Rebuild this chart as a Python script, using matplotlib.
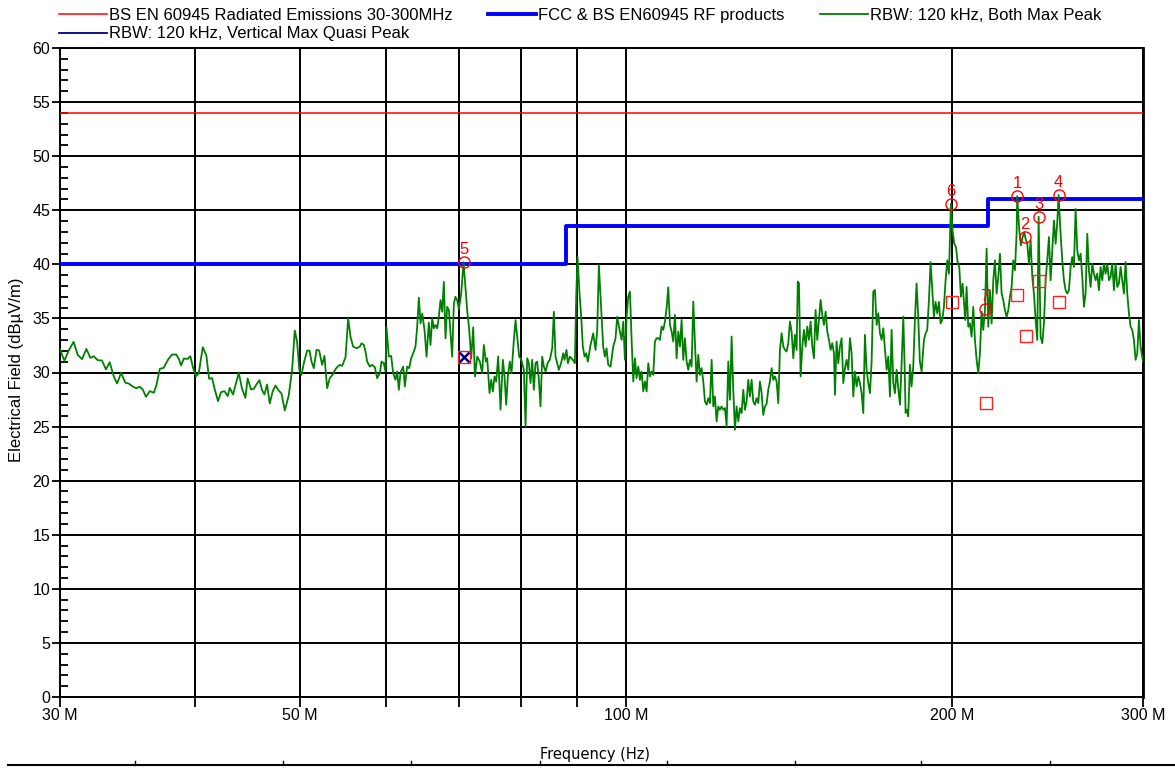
import matplotlib
matplotlib.use("Agg")
import matplotlib.pyplot as plt
from matplotlib.lines import Line2D
from matplotlib.ticker import NullLocator

plt.rcParams["font.family"] = ["Liberation Sans", "DejaVu Sans"]

# limit lines (MHz, dBuV/m)
bs_limit_freq = [30, 300]
bs_limit_level = [54, 54]
fcc_limit_freq = [30, 88, 88, 216, 216, 300]
fcc_limit_level = [40, 40, 43.5, 43.5, 46, 46]

# max peak trace (MHz, dBuV/m)
trace_freq = [
    30.00, 30.28, 30.56, 30.88, 31.15, 31.44, 31.73, 32.00, 32.23, 32.50,
    32.80, 33.08, 33.34, 33.63, 33.87, 34.16, 34.47, 34.72, 35.04, 35.29,
    35.54, 35.77, 36.02, 36.31, 36.62, 36.82, 37.09, 37.40, 37.75, 38.07,
    38.42, 38.64, 38.81, 39.03, 39.36, 39.58, 39.81, 40.06, 40.29, 40.64,
    40.95, 41.19, 41.45, 41.69, 41.98, 42.25, 42.55, 42.85, 43.04, 43.34,
    43.87, 44.18, 44.49, 44.71, 45.03, 45.29, 45.61, 45.84, 46.10, 46.33,
    46.59, 46.86, 47.16, 47.43, 47.76, 48.04, 48.38, 48.79, 49.14, 49.42,
    49.66, 49.90, 50.13, 50.42, 50.74, 50.99, 51.21, 51.46, 51.76, 52.05,
    52.38, 52.64, 52.94, 53.24, 53.55, 53.89,
    54.08, 54.39, 54.66, 55.05, 55.36, 55.64, 55.95, 56.35, 56.75, 56.95,
    57.24, 57.44, 57.64, 57.97, 58.26, 58.59, 58.88, 59.22, 59.43, 59.72,
    59.93, 60.06, 60.36, 60.66, 60.92, 61.22, 61.44, 61.66, 61.88, 62.23,
    62.45, 62.76, 63.03, 63.30, 63.57, 63.88, 64.11, 64.34, 64.57, 64.80,
    65.12, 65.40, 65.72, 65.95, 66.19, 66.42, 66.66, 66.90, 67.13, 67.37,
    67.61, 67.85, 68.09, 68.33, 68.58, 68.82, 69.06, 69.31, 69.55, 69.80,
    70.05, 70.40, 70.75, 71.30, 71.61, 71.91, 72.22, 72.48, 72.84, 73.25,
    73.61, 73.87, 74.19, 74.40, 74.77, 75.04, 75.30, 75.57, 75.84, 76.16,
    76.54, 76.92, 77.19, 77.47, 77.74, 78.07, 78.35, 78.74, 79.02, 79.30,
    79.64, 79.98, 80.43, 80.72, 81.00, 81.29, 81.58, 81.87, 82.16, 82.45,
    82.74, 83.04, 83.33, 83.63, 83.93, 84.23, 84.64, 85.00, 85.43, 85.73,
    86.03, 86.34, 86.65, 87.08, 87.45, 87.70, 88.07, 88.32, 88.70, 89.27,
    89.65, 89.90, 90.15, 90.54, 90.86, 91.18, 91.51, 91.83, 92.16, 92.68,
    93.21, 93.67, 94.01, 94.34, 94.67, 95.01, 95.21, 95.55, 95.89, 96.23,
    96.71, 97.26, 97.74, 98.09, 98.58,
    99.01, 99.36, 99.71, 100.07, 100.42, 100.78, 101.14, 101.50, 101.86, 102.22,
    102.58, 102.95, 103.31, 103.68, 104.05, 104.42, 104.79, 105.16, 105.53, 105.91,
    106.28, 106.66, 107.04, 107.42, 107.80, 108.18, 108.57, 108.95, 109.34, 109.73,
    110.12, 110.51, 110.90, 111.29, 111.69, 112.09, 112.48, 112.88, 113.28, 113.69,
    114.09, 114.50, 114.90, 115.31, 115.72, 116.13, 116.54, 116.96, 117.37, 117.79,
    118.21, 118.63, 119.05, 119.47, 119.90, 120.32, 120.74, 121.17, 121.60, 122.03,
    122.47, 122.90, 123.34, 123.78, 124.22, 124.66, 125.10, 125.54, 125.99, 126.44,
    126.89, 127.34, 127.79, 128.24, 128.70, 129.15, 129.61, 130.07, 130.53, 131.00,
    131.46, 131.93, 132.40, 132.87, 133.34, 133.81, 134.29, 134.77, 135.24, 135.72,
    136.21, 136.69, 137.18, 137.66, 138.15, 138.64, 139.13, 139.63, 140.12, 140.62,
    141.12, 141.62, 142.12, 142.63, 143.14, 143.64, 144.00, 144.36, 144.87, 145.39,
    145.90, 146.42, 146.94, 147.46, 147.98, 148.51, 149.03, 149.56, 150.09, 150.62,
    151.16, 151.70, 152.24, 152.78, 153.32, 153.87, 154.41, 154.96, 155.51, 155.84,
    156.39, 156.95, 157.51, 158.06, 158.63, 159.19, 159.75, 160.32, 160.89, 161.46,
    162.04, 162.61, 163.19, 163.77, 164.35, 164.93, 165.52, 166.10, 166.69, 167.29,
    167.88, 168.48, 169.07, 169.67, 170.28, 170.88, 171.49, 172.09, 172.70, 173.32,
    173.93, 174.55, 175.17, 175.79, 176.42, 177.05, 177.67, 178.30, 178.94, 179.57,
    180.21,
    180.72, 181.10, 181.74, 182.12, 182.76, 183.40, 184.07, 184.72, 185.37, 186.02,
    186.68, 187.37, 188.30, 188.96, 189.62, 190.31, 190.98, 191.66, 192.33, 193.01,
    193.71, 194.40, 195.08, 195.77, 196.47, 197.17, 197.87, 198.57, 198.99, 199.40,
    200.13, 200.84, 201.56, 202.27, 202.99, 203.71, 204.43, 205.16, 205.59, 206.18,
    206.91, 207.63, 208.38, 209.12, 209.87, 210.61, 211.36, 212.11, 212.86, 213.62,
    214.38, 215.14, 215.90, 216.67, 217.44, 218.21, 218.98, 219.76, 220.54, 221.32,
    222.11, 222.89, 223.69, 224.48, 225.28, 226.08, 226.88, 227.68, 228.49, 229.30,
    229.60, 230.61, 231.42, 232.25, 233.07, 233.73, 234.56, 235.40, 236.24, 237.07,
    237.91, 238.76, 239.60, 240.30, 241.31, 242.17, 243.03, 243.89, 244.75, 245.63,
    246.50, 247.37, 248.25, 249.13, 250.02, 250.70, 251.79, 252.68, 253.58, 254.48,
    255.38, 256.29, 257.20, 258.11, 259.03, 259.95, 260.87, 261.80, 262.73, 263.66,
    264.59, 265.53, 266.48, 267.42, 268.37, 269.32, 270.28, 271.24, 272.20, 273.17,
    274.14, 275.11, 276.09, 277.07, 278.05, 279.04, 280.03, 281.02, 282.02, 283.02,
    284.02, 285.03, 286.05, 287.06, 288.08, 289.10, 290.13, 291.16, 292.19, 293.23,
    294.27, 295.31, 296.36, 297.41, 298.47, 300.00,
]
trace_level = [
    32.15, 31.08, 32.03, 32.83, 31.63, 31.23, 32.18, 31.35, 31.51, 31.14,
    31.11, 30.28, 30.95, 29.66, 28.98, 29.97, 29.05, 28.98, 28.68, 28.55,
    28.68, 28.43, 27.75, 28.28, 28.12, 28.80, 30.34, 30.43, 31.20, 31.66,
    31.66, 31.20, 30.65, 31.29, 31.26, 31.51, 30.43, 29.66, 29.91, 32.34,
    31.57, 29.42, 29.48, 28.43, 27.35, 28.18, 28.28, 27.82, 28.58, 27.97,
    29.97, 28.49, 27.66, 29.45, 28.43, 28.49, 28.98, 29.29, 28.37, 27.97,
    28.89, 27.14, 28.28, 28.80, 28.34, 28.06, 26.49, 27.88, 30.25, 33.88,
    32.86, 30.25, 29.78, 31.02, 32.03, 32.03, 31.02, 30.40, 32.09, 32.03,
    30.71, 31.54, 28.55, 29.48, 29.78, 30.31,
    30.49, 30.71, 30.61, 31.41, 34.99, 33.31, 32.39, 32.24, 32.39, 32.70,
    32.55, 31.93, 31.01, 30.55, 30.71, 30.49, 29.48, 29.94, 31.01, 30.86,
    30.09, 34.17, 31.47, 31.53, 29.94, 29.33, 30.09, 28.40, 30.00, 30.55,
    28.71, 30.55, 30.40, 31.32, 31.78, 32.39, 34.23, 36.90, 34.54, 35.46,
    33.93, 31.47, 34.60, 32.55, 35.00, 34.08, 34.39, 34.08, 35.15, 36.69,
    35.61, 38.37, 33.16, 36.07, 35.77, 33.62, 31.47, 36.38, 37.00, 36.69,
    35.86, 37.30, 40.20, 35.77, 33.93, 31.32, 34.17, 29.63, 31.47, 31.01,
    29.94, 32.55, 31.01, 31.32, 28.10, 29.33, 28.25, 29.63, 29.17, 31.47,
    26.56, 31.17, 29.63, 27.02, 29.63, 31.01, 29.94, 33.01, 34.85, 33.31,
    31.47, 31.23, 30.25, 25.03, 31.32, 30.86, 29.02, 31.17, 28.40, 30.86,
    31.01, 29.33, 26.87, 31.47, 30.55, 30.09, 30.92, 31.17, 32.24, 35.61,
    31.47, 30.86, 30.25, 30.92, 31.78, 31.17, 32.09, 30.86, 31.47, 31.17,
    30.86, 36.99, 40.67, 37.30, 35.15, 32.39, 31.47, 31.78, 31.01, 32.55,
    33.62, 32.09, 33.93, 39.91, 36.99, 34.08, 32.39, 31.47, 32.24, 30.71,
    30.55, 32.39, 33.16, 35.15, 33.93,
    33.02, 34.71, 31.17, 35.17, 37.02, 37.48, 33.02, 29.17, 31.32, 29.48,
    30.55, 29.32, 30.09, 28.25, 29.17, 28.25, 30.86, 29.63, 30.09, 29.78,
    32.86, 33.17, 33.17, 33.02, 34.25, 33.94, 34.71, 35.94, 37.88, 34.40,
    33.78, 32.86, 35.32, 31.32, 33.78, 32.40, 34.86, 31.17, 33.17, 31.02,
    30.25, 31.17, 30.55, 36.55, 32.71, 29.17, 31.63, 29.78, 30.40, 29.17,
    27.32, 27.02, 27.63, 27.17, 31.17, 26.86, 27.78, 25.48, 26.86, 26.55,
    26.86, 26.55, 26.71, 25.02, 31.02, 27.48, 33.32, 28.40, 24.71, 26.86,
    25.48, 26.71, 26.25, 28.40, 26.55, 27.32, 29.32, 27.78, 29.32, 27.32,
    27.02, 27.63, 27.17, 29.17, 28.09, 26.09, 26.86, 27.11, 28.40, 29.17,
    30.40, 29.32, 29.63, 29.17, 27.17, 32.09, 33.63, 32.40, 32.09, 31.94,
    32.71, 34.71, 33.78, 31.32, 33.48, 32.09, 38.40, 38.25, 29.63, 32.40,
    33.94, 32.40, 34.25, 33.02, 34.71, 32.40, 31.32, 35.78, 33.02, 34.86,
    36.71, 35.32, 34.40, 35.63, 33.78, 33.02, 32.09, 32.71, 31.78, 27.94,
    32.86, 30.86, 32.40, 33.17, 29.02, 30.40, 31.17, 30.25, 33.17, 31.78,
    27.78, 30.09, 28.71, 29.63, 29.02, 28.09, 26.25, 33.48, 30.25, 29.02,
    28.09, 31.02, 37.48, 37.63, 34.40, 35.48, 33.63, 33.02, 34.09, 32.09,
    30.25, 31.48, 27.78, 33.94, 29.02, 28.09, 30.25, 28.55, 27.02, 30.86,
    35.17,
    30.55, 26.26, 26.56, 25.95, 30.71, 28.71, 30.55, 34.85, 38.22, 35.15,
    31.01, 30.09, 33.01, 33.62, 33.93, 36.69, 40.21, 37.61, 35.15, 36.53,
    35.46, 36.53, 34.54, 34.85, 36.07, 38.53, 40.37, 39.14, 42.21, 45.60,
    43.13, 41.90, 41.60, 40.21, 39.75, 36.99, 38.22, 36.07, 34.85, 37.91,
    34.23, 34.54, 33.31, 36.07, 33.01, 31.17, 29.94, 31.78, 35.61, 33.93,
    35.77, 41.44, 34.23, 37.61, 34.54, 38.53, 40.37, 37.30, 38.83, 40.98,
    37.30, 36.69, 35.77, 35.15, 35.77, 36.99, 37.91, 40.37, 39.45, 42.82,
    46.30, 43.13, 41.75, 42.52, 42.98, 42.36, 41.90, 40.06, 42.21, 38.83,
    37.30, 34.85, 33.01, 44.40, 33.31, 32.70, 34.54, 38.53, 40.37, 42.52,
    38.53, 41.29, 44.05, 41.90, 43.90, 46.40, 42.82, 40.37, 38.53, 37.61,
    37.30, 37.61, 39.75, 40.67, 39.75, 45.12, 41.29, 40.37, 40.98, 38.83,
    36.07, 37.30, 42.82, 39.45, 37.91, 40.06, 39.14, 38.53, 39.14, 37.61,
    39.75, 38.53, 40.06, 39.14, 40.06, 38.53, 38.83, 40.06, 37.61, 40.06,
    37.91, 38.22, 39.75, 38.53, 37.30, 40.21, 37.30, 35.46, 34.23, 33.93,
    33.01, 31.17, 31.78, 34.85, 32.39, 31.01,
]

# marked peaks
peak_labels = ["1", "2", "3", "4", "5", "6", "7"]
peak_freq = [229.6, 233.4, 240.3, 250.7, 70.75, 199.4, 214.4]
peak_level = [46.3, 42.5, 44.4, 46.4, 40.2, 45.6, 35.9]

# quasi-peak results at the marked frequencies
qp_freq = [199.7, 214.7, 229.7, 234.1, 240.5, 251.0, 70.75]
qp_level = [36.5, 27.2, 37.2, 33.4, 38.5, 36.5, 31.4]

# vertical max quasi peak
vqp_freq = [70.75]
vqp_level = [31.4]

grid_freq = [30, 40, 50, 60, 70, 80, 90, 100, 200, 300]
grid_labels = ["30 M", "", "50 M", "", "", "", "", "100 M", "200 M", "300 M"]

W, H = 1175, 768
fig = plt.figure(figsize=(W / 100, H / 100), dpi=100)
ax = fig.add_axes([60 / W, 71 / H, 1083 / W, 649 / H])
ax.set_xscale("log")

red, = ax.plot(bs_limit_freq, bs_limit_level, color="#ff0000", lw=1.1, zorder=3)
blue, = ax.plot(fcc_limit_freq, fcc_limit_level, color="#0000ff", lw=2.8, zorder=3)
green, = ax.plot(trace_freq, trace_level, color="#008000", lw=1.3, zorder=4)
ax.plot(qp_freq, qp_level, ls="none", marker="s", ms=9, mfc="none",
        mec="#ff2020", mew=1.0, zorder=5)
ax.plot(vqp_freq, vqp_level, color="#000080", ls="none", marker="x",
        ms=7, mew=1.8, zorder=6)
ax.plot(peak_freq, peak_level, ls="none", marker="o", ms=8, mfc="none",
        mec="#ff0000", mew=1.0, zorder=6)
for lbl, f, lv in zip(peak_labels, peak_freq, peak_level):
    ax.annotate(lbl, (f, lv), xytext=(0, 3.5), textcoords="offset points",
                ha="center", va="bottom", color="#ff0000", fontsize=12, zorder=7)

ax.set_xlim(30, 300)
ax.set_ylim(0, 60)
ax.set_xticks(grid_freq)
ax.set_xticklabels(grid_labels)
ax.xaxis.set_minor_locator(NullLocator())
ax.set_yticks(range(0, 61, 5))
ax.set_yticks(range(0, 61), minor=True)
ax.tick_params(axis="x", which="major", direction="out", length=7, width=1.3,
               labelsize=11.5, pad=1)
ax.tick_params(axis="y", which="major", direction="out", length=6, width=1.3,
               labelsize=11.5, pad=1)
ax.tick_params(axis="y", which="minor", direction="in", length=6, width=1.3)
ax.grid(True, which="major", color="black", lw=1.4, zorder=1)
ax.set_axisbelow(True)
for side in ["left", "bottom", "top"]:
    ax.spines[side].set_linewidth(1.4)
ax.spines["right"].set_linewidth(2.0)

fig.text(17 / W, 1 - 370 / H, "Electrical Field (dBµV/m)", rotation=90,
         ha="center", va="center", fontsize=12)
fig.text(595 / W, 1 - 755 / H, "Frequency (Hz)", ha="center", va="center",
         fontsize=10.5, family="DejaVu Sans")

# navy handle drawn as a plain line in the legend
navy_handle = Line2D([], [], color="#000080", lw=1.3)
fig.legend([red, navy_handle, blue, green],
           ["BS EN 60945 Radiated Emissions 30-300MHz",
            "RBW: 120 kHz, Vertical Max Quasi Peak",
            "FCC & BS EN60945 RF products",
            "RBW: 120 kHz, Both Max Peak"],
           ncol=3, loc="upper left", bbox_to_anchor=(59 / W, 1 - 8 / H),
           frameon=False, fontsize=12, handlelength=2.9, handletextpad=0.12,
           columnspacing=2.1, labelspacing=0.2, borderpad=0, borderaxespad=0)

# top border of the table below the chart
fig.add_artist(Line2D([8 / W, 1], [3 / H, 3 / H], color="black", lw=1.5,
                      transform=fig.transFigure))
for tx in [135, 283, 411, 540, 667, 795, 921, 1050]:
    fig.add_artist(Line2D([tx / W, tx / W], [3 / H, 7 / H], color="black",
                          lw=1.0, transform=fig.transFigure))

fig.savefig("out.png", dpi=100)
